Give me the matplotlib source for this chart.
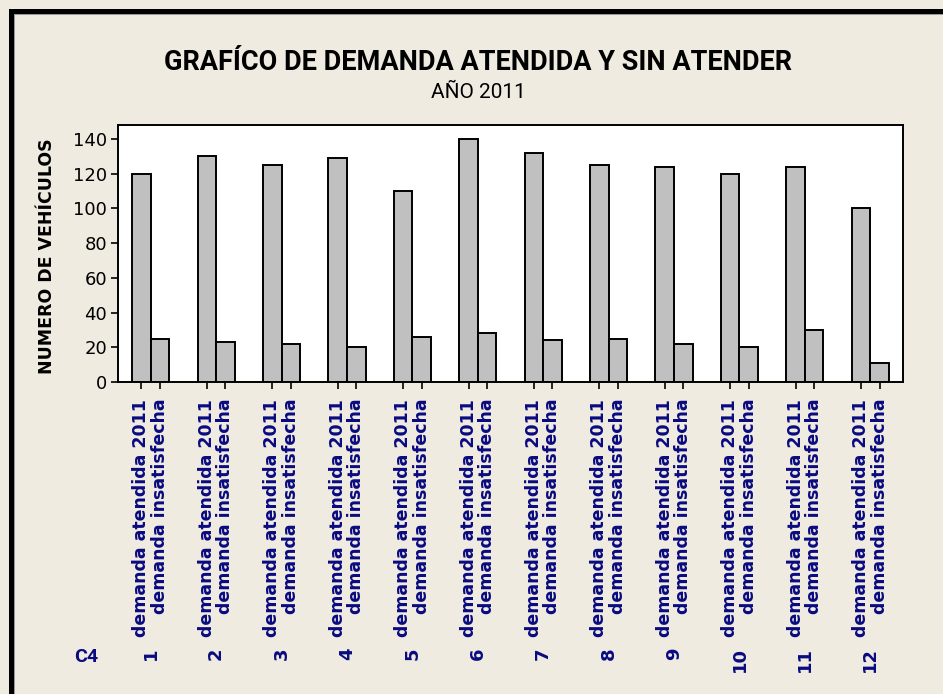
import numpy as np
import matplotlib
matplotlib.use('Agg')
from matplotlib import pyplot as plt
from matplotlib.patches import Rectangle
from matplotlib.transforms import blended_transform_factory

# datos
grupos = ['1', '2', '3', '4', '5', '6', '7', '8', '9', '10', '11', '12']
demanda_atendida = [120, 130, 125, 129, 110, 140, 132, 125, 124, 120, 124, 100]
demanda_insatisfecha = [25, 23, 22, 20, 26, 28, 24, 25, 22, 20, 30, 11]
etiqueta_atendida = 'demanda atendida 2011'
etiqueta_insatisfecha = 'demanda insatisfecha'
yticks = [0, 20, 40, 60, 80, 100, 120, 140]

fondo = '#EFEBE1'
azul = '#0A0A80'

W, H = 943, 694
fig = plt.figure(figsize=(W / 100, H / 100), dpi=100, facecolor=fondo)

# marco negro arriba / izquierda
fig.patches.append(Rectangle((9 / W, 0), 5 / W, 1 - 9 / H, transform=fig.transFigure,
                             facecolor='black', edgecolor='none'))
fig.patches.append(Rectangle((9 / W, 1 - 14 / H), 1, 5 / H, transform=fig.transFigure,
                             facecolor='black', edgecolor='none'))
fig.patches.append(Rectangle((14 / W, 1 - 15 / H), 1, 1 / H, transform=fig.transFigure,
                             facecolor='#9A9A9A', edgecolor='none'))
fig.patches.append(Rectangle((14 / W, 0), 1 / W, 1 - 14 / H, transform=fig.transFigure,
                             facecolor='#9A9A9A', edgecolor='none'))

ax = fig.add_axes([118 / W, 1 - 382 / H, (903 - 118) / W, (382 - 125) / H])
ax.set_facecolor('white')

x = np.arange(1, len(grupos) + 1)
ancho = 0.285
off = 0.142
ax.bar(x - off, demanda_atendida, width=ancho, color='#C0C0C0', edgecolor='black', linewidth=1.4)
ax.bar(x + off, demanda_insatisfecha, width=ancho, color='#C0C0C0', edgecolor='black', linewidth=1.4)

ax.set_xlim(0.5, 12.5)
ax.set_ylim(0, 148)
ax.set_yticks(yticks)
ax.tick_params(axis='y', labelsize=13, length=5, width=1.2, pad=3)
for s in ax.spines.values():
    s.set_linewidth(1.4)

posiciones = np.concatenate([x - off, x + off])
etiquetas = [etiqueta_atendida] * len(x) + [etiqueta_insatisfecha] * len(x)
ax.set_xticks(posiciones)
ax.set_xticklabels(etiquetas, rotation=90, va='top', ha='center',
                   fontsize=12.5, fontweight='bold', color=azul)
ax.tick_params(axis='x', length=5, width=1.2, pad=7)

ax.set_ylabel('NUMERO DE VEHÍCULOS', fontsize=12.5, fontweight='heavy')
ax.yaxis.set_label_coords(-0.079, 0.49)

# numeros de grupo debajo
trans = blended_transform_factory(ax.transData, fig.transFigure)
for xi, g in zip(x, grupos):
    ax.text(xi, 1 - 647 / H, g, transform=trans, rotation=90, va='top', ha='center',
            fontsize=13, fontweight='bold', color=azul)
fig.text(86 / W, 1 - 657 / H, 'C4', fontsize=14, fontweight='bold', color=azul,
         ha='center', va='center', family=['Roboto', 'DejaVu Sans'])

fig.text(478 / W, 1 - 63 / H, 'GRAFÍCO DE DEMANDA ATENDIDA Y SIN ATENDER',
         fontsize=19.5, fontweight='bold', ha='center', va='center',
         family=['Roboto', 'DejaVu Sans'])
fig.text(478 / W, 1 - 92 / H, 'AÑO 2011', fontsize=15, ha='center', va='center',
         family=['Roboto', 'DejaVu Sans'])

fig.savefig('out.png', dpi=100, facecolor=fondo)
